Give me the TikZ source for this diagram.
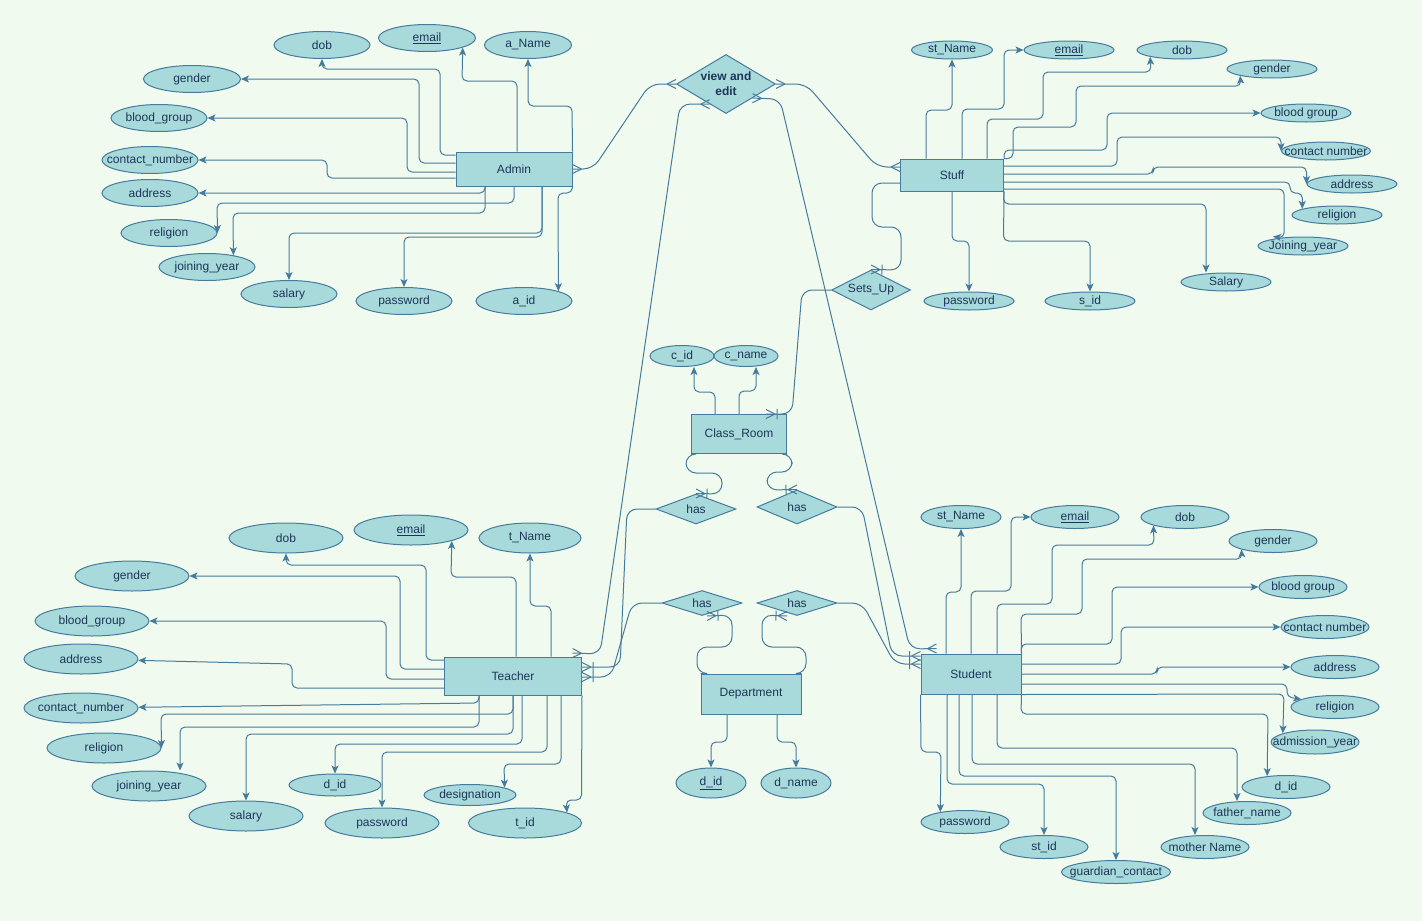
\documentclass[tikz,border=0pt]{standalone}
\usepackage{fontspec}
\setmainfont{Liberation Sans}
\usetikzlibrary{shapes.geometric,arrows.meta,decorations.markings}

\definecolor{erbg}{HTML}{F1FAEE}
\definecolor{erfill}{HTML}{A8DADC}
\definecolor{erline}{HTML}{457B9D}
\definecolor{ertext}{HTML}{1D3557}

\newcommand{\lbl}[1]{\makebox[0pt]{#1}}

\tikzset{
	attr/.style={ellipse, draw=erline, fill=erfill, text=ertext, inner sep=0pt, line width=1pt, font=\fontsize{12}{14}\selectfont},
	adm/.style={attr, minimum width=96, minimum height=27},
	stf/.style={attr, minimum width=90, minimum height=18},
	tch/.style={attr, minimum width=114, minimum height=30},
	std/.style={attr, minimum width=88, minimum height=23},
	ent/.style={rectangle, draw=erline, fill=erfill, text=ertext, line width=1pt, font=\fontsize{12}{14}\selectfont},
	rel/.style={diamond, aspect=2.5, draw=erline, fill=erfill, text=ertext, inner sep=0pt, line width=1pt, font=\fontsize{12}{14}\selectfont},
	lnk/.style={draw=erline, line width=1pt, rounded corners=5pt, -{Stealth[length=8pt,width=7pt,inset=2pt]}},
	erl/.style={draw=erline, line width=1pt, rounded corners=10pt},
	crowS/.style={postaction={decorate, decoration={markings, mark=at position 0 with {\draw[erline, -, line width=1pt] (9pt,0pt) -- (0pt,4.5pt) (9pt,0pt) -- (0pt,-4.5pt);}}}},
	crowE/.style={postaction={decorate, decoration={markings, mark=at position 1 with {\draw[erline, -, line width=1pt] (-9pt,0pt) -- (0pt,4.5pt) (-9pt,0pt) -- (0pt,-4.5pt);}}}},
	onemanyE/.style={postaction={decorate, decoration={markings, mark=at position 1 with {\draw[erline, -, line width=1pt] (-9pt,0pt) -- (0pt,4.5pt) (-9pt,0pt) -- (0pt,-4.5pt) (-11pt,-5pt) -- (-11pt,5pt);}}}}
}

\begin{document}
\begin{tikzpicture}[x=1pt, y=-1pt]
	\useasboundingbox (0,0) rectangle (1422,921);
	\fill[erbg] (0,0) rectangle (1422,921);
	
	\node[ent, minimum width=116, minimum height=34] (admin) at (514, 169) {Admin};
	\node[ent, minimum width=103, minimum height=32] (stuff) at (952, 175) {Stuff};
	\node[ent, minimum width=95, minimum height=39] (classroom) at (739, 434) {Class\_Room};
	\node[ent, minimum width=137, minimum height=38] (teacher) at (513, 676) {Teacher};
	\node[ent, minimum width=100, minimum height=40] (dept) at (751, 694) {Department};
	\node[ent, minimum width=100, minimum height=40] (student) at (971, 674) {Student};
	
	\node[rel, aspect=1.68, minimum width=99, minimum height=59, align=center, font=\fontsize{12}{15}\selectfont\bfseries] (view) at (726, 84) {view and\\edit};
	\node[rel, minimum width=79, minimum height=40] (setsup) at (871, 290) {Sets\_Up};
	\node[rel, minimum width=80, minimum height=30] (has1) at (696, 509) {has};
	\node[rel, minimum width=80, minimum height=34] (has2) at (797, 507) {has};
	\node[rel, minimum width=80, minimum height=25] (has3) at (702, 603) {has};
	\node[rel, minimum width=80, minimum height=25] (has4) at (797, 603) {has};
	
	\node[adm] (a_dob) at (322, 45) {\lbl{dob}};
	\node[adm, minimum width=97] (a_email) at (427, 38) {\lbl{\underline{email}}};
	\node[adm, minimum width=87] (a_name) at (528, 45) {\lbl{a\_Name}};
	\node[adm, minimum width=97] (a_gender) at (192, 79) {\lbl{gender}};
	\node[adm] (a_blood) at (159, 118) {\lbl{blood\_group}};
	\node[adm] (a_contact) at (150, 160) {\lbl{contact\_number}};
	\node[adm] (a_address) at (150, 193) {\lbl{address}};
	\node[adm] (a_religion) at (169, 233) {\lbl{religion}};
	\node[adm] (a_joining) at (207, 267) {\lbl{joining\_year}};
	\node[adm] (a_salary) at (289, 294) {\lbl{salary}};
	\node[adm] (a_password) at (404, 301) {\lbl{password}};
	\node[adm] (a_id) at (524, 301) {\lbl{a\_id}};
	
	\node[stf, minimum width=81] (s_name) at (952, 50) {\lbl{st\_Name}};
	\node[stf] (s_email) at (1069, 50) {\lbl{\underline{email}}};
	\node[stf] (s_dob) at (1182, 50) {\lbl{dob}};
	\node[stf] (s_gender) at (1272, 69) {\lbl{gender}};
	\node[stf] (s_blood) at (1306, 113) {\lbl{blood group}};
	\node[stf, minimum width=89] (s_contact) at (1326, 151) {\lbl{contact number}};
	\node[stf] (s_address) at (1352, 184) {\lbl{address}};
	\node[stf] (s_religion) at (1337, 215) {\lbl{religion}};
	\node[stf] (s_joining) at (1303, 246) {\lbl{Joining\_year}};
	\node[stf] (s_salary) at (1226, 282) {\lbl{Salary}};
	\node[stf] (s_password) at (969, 301) {\lbl{password}};
	\node[stf] (s_id) at (1090, 301) {\lbl{s\_id}};
	
	\node[attr, minimum width=64, minimum height=21] (c_id) at (682, 356) {\lbl{c\_id}};
	\node[attr, minimum width=64, minimum height=21] (c_name) at (746, 356) {\lbl{c\_name}};
	
	\node[attr, minimum width=70, minimum height=30] (d_id) at (711, 783) {\lbl{\underline{d\_id}}};
	\node[attr, minimum width=70, minimum height=30] (d_name) at (796, 783) {\lbl{d\_name}};
	
	\node[tch] (t_dob) at (286, 538) {\lbl{dob}};
	\node[tch] (t_email) at (411, 530) {\lbl{\underline{email}}};
	\node[tch, minimum width=102] (t_name) at (530, 538) {\lbl{t\_Name}};
	\node[tch] (t_gender) at (132, 576) {\lbl{gender}};
	\node[tch] (t_blood) at (92, 621) {\lbl{blood\_group}};
	\node[tch] (t_address) at (81, 659) {\lbl{address}};
	\node[tch] (t_contact) at (81, 708) {\lbl{contact\_number}};
	\node[tch] (t_religion) at (104, 748) {\lbl{religion}};
	\node[tch] (t_joining) at (149, 786) {\lbl{joining\_year}};
	\node[tch] (t_salary) at (246, 816) {\lbl{salary}};
	\node[tch, minimum width=92, minimum height=22] (t_did) at (335, 785) {\lbl{d\_id}};
	\node[tch] (t_password) at (382, 823) {\lbl{password}};
	\node[tch, minimum width=92, minimum height=21] (t_desig) at (470, 795) {\lbl{designation}};
	\node[tch, minimum width=113] (t_id) at (525, 823) {\lbl{t\_id}};
	
	\node[std, minimum width=80] (st_name) at (961, 517) {\lbl{st\_Name}};
	\node[std] (st_email) at (1075, 517) {\lbl{\underline{email}}};
	\node[std] (st_dob) at (1185, 517) {\lbl{dob}};
	\node[std] (st_gender) at (1273, 541) {\lbl{gender}};
	\node[std] (st_blood) at (1303, 587) {\lbl{blood group}};
	\node[std] (st_contact) at (1325, 627) {\lbl{contact number}};
	\node[std] (st_address) at (1335, 667) {\lbl{address}};
	\node[std] (st_religion) at (1335, 707) {\lbl{religion}};
	\node[std, minimum height=24] (st_adm) at (1315, 742) {\lbl{admission\_year}};
	\node[std] (st_did) at (1286, 787) {\lbl{d\_id}};
	\node[std] (st_father) at (1247, 813) {\lbl{father\_name}};
	\node[std] (st_mother) at (1205, 847) {\lbl{mother Name}};
	\node[std, minimum width=109] (st_guard) at (1116, 872) {\lbl{guardian\_contact}};
	\node[std] (st_id) at (1044, 847) {\lbl{st\_id}};
	\node[std] (st_password) at (965, 822) {\lbl{password}};
	
	\draw[lnk] (admin.west |- 0,155) -- (440,155) -- (440,69) -- (322,69) -- (a_dob);
	\draw[lnk] (admin.west |- 0,163) -- (419,163) -- (419,79) -- (a_gender);
	\draw[lnk] (admin.west |- 0,172) -- (407,172) -- (407,118) -- (a_blood);
	\draw[lnk] (admin.west |- 0,178) -- (327,178) -- (327,160) -- (a_contact);
	\draw[lnk] (admin.south -| 485,0) -- (485,193) -- (a_address);
	\draw[lnk] (admin.south -| 514,0) -- (514,203) -- (217,203) -- (a_religion.east);
	\draw[lnk] (admin.south -| 485,0) -- (485,213) -- (233,213) -- (a_joining.24);
	\draw[lnk] (admin.south -| 542,0) -- (542,233) -- (289,233) -- (a_salary);
	\draw[lnk] (admin.south -| 542,0) -- (542,237) -- (404,237) -- (a_password);
	\draw[lnk] (admin.south east) -- (572,193) -- (558,193) -- (a_id.16);
	\draw[lnk] (admin.north -| 517,0) -- (517,81) -- (462,81) -- (a_email.-15);
	\draw[lnk] (admin.north east) -- (572,106) -- (528,106) -- (a_name);
	
	\draw[lnk] (stuff.north -| 926,0) -- (926,110) -- (952,110) -- (s_name);
	\draw[lnk] (stuff.north -| 962,0) -- (962,109) -- (1004,109) -- (1004,50) -- (s_email);
	\draw[lnk] (stuff.north -| 987,0) -- (987,119) -- (1043,119) -- (1043,72) -- (1151,72) -- (s_dob.-168);
	\draw[lnk] (stuff.north east) -| (1013,127) -- (1076,127) -- (1076,86) -- (1241,86) -- (s_gender.-168);
	\draw[lnk] (stuff.north east) |- (1107,150) -- (1107,113) -- (s_blood);
	\draw[lnk] (stuff.east |- 0,166) -- (1117,166) -- (1117,137) -| (s_contact.west);
	\draw[lnk] (stuff.east |- 0,174) -- (1153,174) -- (1153,167) -| (s_address.west);
	\draw[lnk] (stuff.east |- 0,182) -- (1290,182) -- (1290,193) -| (s_religion.170);
	\draw[lnk] (stuff.east |- 0,189) -- (1284,189) -- (1284,238) -- ([xshift=-30]s_joining.north);
	\draw[lnk] (stuff.south east) -- (1003.5,204) -- (1206,204) -- ([xshift=-20]s_salary.north);
	\draw[lnk] (stuff.south east) -- (1003.5,241) -- (1090,241) -- (s_id);
	\draw[lnk] (stuff.south) -- (952,241) -- (969,241) -- (s_password);
	
	\draw[erl, crowS, crowE] (admin.east) -- (593,169) -- (650,84) -- (view.west);
	\draw[erl, crowS, crowE] (view.east) -- (806,84) -- (877,167) -- (stuff.west |- 0,167);
	\draw[erl, crowS, crowE] (view.-129) -- (680,104) -- (600,654) -- ([xshift=-9.5pt,yshift=3.5pt]teacher.north east);
	\draw[erl, crowS, crowE] (view.-28) -- (780,99) -- (910,649) -- ([xshift=16pt,yshift=5pt]student.north west);
	\draw[erl, onemanyE] (stuff.west |- 0,183) -- (872,183) -- (872,227) -- (901,227) -- (901,270) -- (setsup.north);
	\draw[erl, onemanyE] (setsup.west) -- (802,290) -- (792,414) -- ([xshift=27pt]classroom.north);
	
	\draw[lnk] (classroom.north -| 715,0) -- (715,392) -- (694,392) -- ([xshift=12]c_id.south);
	\draw[lnk] (classroom.north -| 739,0) -- (739,391) -- (756,391) -- ([xshift=10]c_name.south);
	\draw[erl, onemanyE] (classroom.south west) -| (686,473) -- (722,473) -- (722,494) -- (has1.north);
	\draw[erl, onemanyE] (classroom.south east) -| (792,472) -- (767,472) -- (767,490) -- (has2.north);
	
	\draw[erl, onemanyE] (has1.west) -- (627,509) -- (620,667) -- (teacher.east |- 0,667);
	\draw[erl, onemanyE] (has3.west) -- (632,603) -- (611,677) -- (teacher.east |- 0,677);
	\draw[erl, onemanyE] (has2.east) -- (862,507) -- (892,656) -- (student.west |- 0,656);
	\draw[erl, onemanyE] (has4.east) -- (862,603) -- (895,664) -- (student.west |- 0,664);
	
	\draw[erl, onemanyE] (dept.north west) -| (697,647) -- (732,647) -- (732,615) -- ([xshift=5]has3.south);
	\draw[erl, onemanyE] (dept.north east) -| (806,647) -- (762,647) -- (762,615) -- ([xshift=-10]has4.south);
	\draw[lnk] (dept.south -| 727,0) -- (727,742) -- (711,742) -- (d_id);
	\draw[lnk] (dept.south -| 777,0) -- (777,742) -- (796,742) -- (d_name);
	
	\draw[lnk] (teacher.west |- 0,660) -- (426,660) -- (426,565) -- (286,565) -- (t_dob);
	\draw[lnk] (teacher.west |- 0,669) -- (400,669) -- (400,576) -- (t_gender);
	\draw[lnk] (teacher.west |- 0,679) -- (386,679) -- (386,621) -- (t_blood);
	\draw[lnk] (teacher.west |- 0,688) -- (292,688) -- (292,664) -- (t_address);
	\draw[lnk] (teacher.south -| 479,0) -- (479,703) -- (t_contact);
	\draw[lnk] (teacher.south -| 513,0) -- (513,714) -- (161,714) -- (t_religion.east);
	\draw[lnk] (teacher.south -| 479,0) -- (479,727) -- (180,727) -- ([xshift=31]t_joining.north);
	\draw[lnk] (teacher.south -| 513,0) -- (513,734) -- (246,734) -- (t_salary);
	\draw[lnk] (teacher.south -| 522,0) -- (522,744) -- (335,744) -- (t_did);
	\draw[lnk] (teacher.south -| 547,0) -- (547,752) -- (382,752) -- (t_password);
	\draw[lnk] (teacher.south -| 561,0) -- (561,764) -- (504,764) -- (t_desig.12);
	\draw[lnk] (teacher.south east) -- (581.5,800) -- (566,800) -- (t_id.14);
	\draw[lnk] (teacher.north -| 516,0) -- (516,577) -- (451,577) -- (t_email.-15);
	\draw[lnk] (teacher.north -| 551,0) -- (551,606) -- (530,606) -- (t_name);
	
	\draw[lnk] (student.north -| 946,0) -- (946,592) -- (961,592) -- (st_name);
	\draw[lnk] (student.north -| 971,0) -- (971,591) -- (1011,591) -- (1011,517) -- (st_email);
	\draw[lnk] (student.north -| 997,0) -- (997,604) -- (1052,604) -- (1052,545) -- (1154,545) -- (st_dob.-165);
	\draw[lnk] (student.north east) -- (1021,614) -- (1082,614) -- (1082,559) -- (1242,559) -- (st_gender.-165);
	\draw[lnk] (student.north east) -- (1021,644) -- (1112,644) -- (1112,587) -- (st_blood);
	\draw[lnk] (student.east |- 0,664) -- (1121,664) -- (1121,627) -- (st_contact);
	\draw[lnk] (student.east |- 0,674) -- (1157,674) -- (1157,667) -- (st_address);
	\draw[lnk] (student.east |- 0,684) -- (1287,684) -- (1287,697) -- (st_religion.167);
	\draw[lnk] (student.south east) -- (1284,694) -- (st_adm.165);
	\draw[lnk] (student.south east) -- (1021,714) -- (1268,714) -- (st_did.150);
	\draw[lnk] (student.south -| 997,0) -- (997,748) -- (1237,748) -- ([xshift=-10]st_father.north);
	\draw[lnk] (student.south -| 972,0) -- (972,764) -- (1195,764) -- ([xshift=-10]st_mother.north);
	\draw[lnk] (student.south -| 959,0) -- (959,776) -- (1116,776) -- (st_guard);
	\draw[lnk] (student.south -| 947,0) -- (947,784) -- (1044,784) -- (st_id);
	\draw[lnk] (student.south west) -- (921,752) -- (941,752) -- (st_password.158);
	
\end{tikzpicture}
\end{document}
